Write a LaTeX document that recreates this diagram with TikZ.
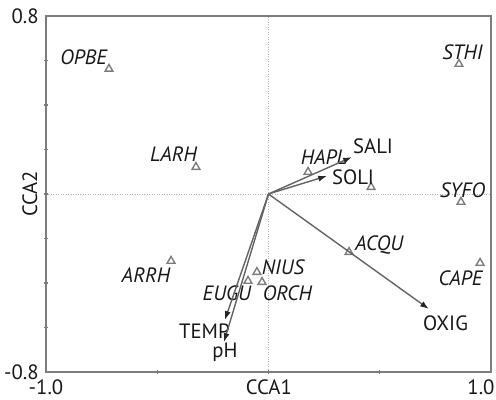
\documentclass[tikz,border=0pt]{standalone}
\usepackage{fontspec}
\setmainfont{PT Sans}
\usetikzlibrary{shapes.geometric,arrows.meta}
\definecolor{axisgray}{RGB}{125,125,125}
\definecolor{arrgray}{RGB}{100,100,100}
\definecolor{txt}{RGB}{25,25,25}
\tikzset{
  spec/.style={regular polygon, regular polygon sides=3, draw=axisgray, line width=0.8pt, minimum size=0.18cm, inner sep=0pt},
  splabel/.style={font=\itshape\fontsize{11.8}{14}\selectfont, text=txt, inner sep=0pt},
  envlabel/.style={font=\fontsize{11.8}{14}\selectfont, text=txt, inner sep=0pt},
  envarrow/.style={draw=arrgray, line width=0.8pt, -{Latex[length=5pt,width=3.5pt,color=black!85]}}
}
\begin{document}
\begin{tikzpicture}[x=4.45cm,y=4.45cm]
 \useasboundingbox (-1.2067,-0.9258) rectangle (1.0225,0.8719);

 % zero lines
 \draw[gray!60, densely dotted, line width=0.4pt] (-1,0) -- (1,0);
 \draw[gray!60, densely dotted, line width=0.4pt] (0,-0.8) -- (0,0.8);

 % frame and ticks
 \draw[axisgray, line width=1.1pt] (-1,-0.8) rectangle (1,0.8);
 \foreach \y in {-0.6,-0.4,-0.2,0,0.2,0.4,0.6}
   \draw[axisgray, line width=0.8pt] (-1,\y) ++(-0.04cm,0) -- ++(0.08cm,0);
 \foreach \x in {-0.5,0,0.5}
   \draw[axisgray, line width=0.8pt] (\x,-0.8) ++(0,-0.04cm) -- ++(0,0.08cm);

 % axis labels
 \node[envlabel, anchor=east] (ytop) at (-1.031,0.8) {0.8};
 \node[envlabel, anchor=east] (ybot) at (-1.031,-0.8) {-0.8};
 \node[envlabel] (xleft) at (-1.0,-0.868) {-1.0};
 \node[envlabel] (xright) at (0.955,-0.868) {1.0};
 \node[envlabel] (cca1) at (0.002,-0.868) {CCA1};
 \node[envlabel, rotate=90] (cca2) at (-1.072,0) {CCA2};

 % species
 \foreach \n/\x/\y/\lx/\ly in {OPBE/-0.717/0.562/-0.831/0.616, LARH/-0.326/0.121/-0.427/0.180,
     STHI/0.856/0.584/0.872/0.638, HAPL/0.178/0.099/0.249/0.166, SYFO/0.865/-0.036/0.872/0.018,
     CAPE/0.951/-0.310/0.863/-0.378, ACQU/0.362/-0.261/0.497/-0.229, NIUS/-0.052/-0.351/0.065/-0.328,
     ORCH/-0.029/-0.396/0.085/-0.445, EUGU/-0.092/-0.391/-0.187/-0.445, ARRH/-0.438/-0.301/-0.551/-0.364} {
   \node[spec] (\n) at (\x,\y) {};
   \node[splabel] (l\n) at (\lx,\ly) {\n};
 }
 \node[spec] (sp12) at (0.461,0.031) {};

 % environmental arrows
 \coordinate (o) at (0,0);
 \foreach \n/\x/\y/\lx/\ly in {SALI/0.375/0.166/0.470/0.216, SOLI/0.263/0.081/0.380/0.076,
     OXIG/0.721/-0.517/0.796/-0.580, TEMP/-0.196/-0.566/-0.288/-0.616, pH/-0.200/-0.665/-0.196/-0.710} {
   \coordinate (h\n) at (\x,\y);
   \draw[envarrow] (o) -- (h\n);
   \node[envlabel] (l\n) at (\lx,\ly) {\n};
 }

\end{tikzpicture}
\end{document}
